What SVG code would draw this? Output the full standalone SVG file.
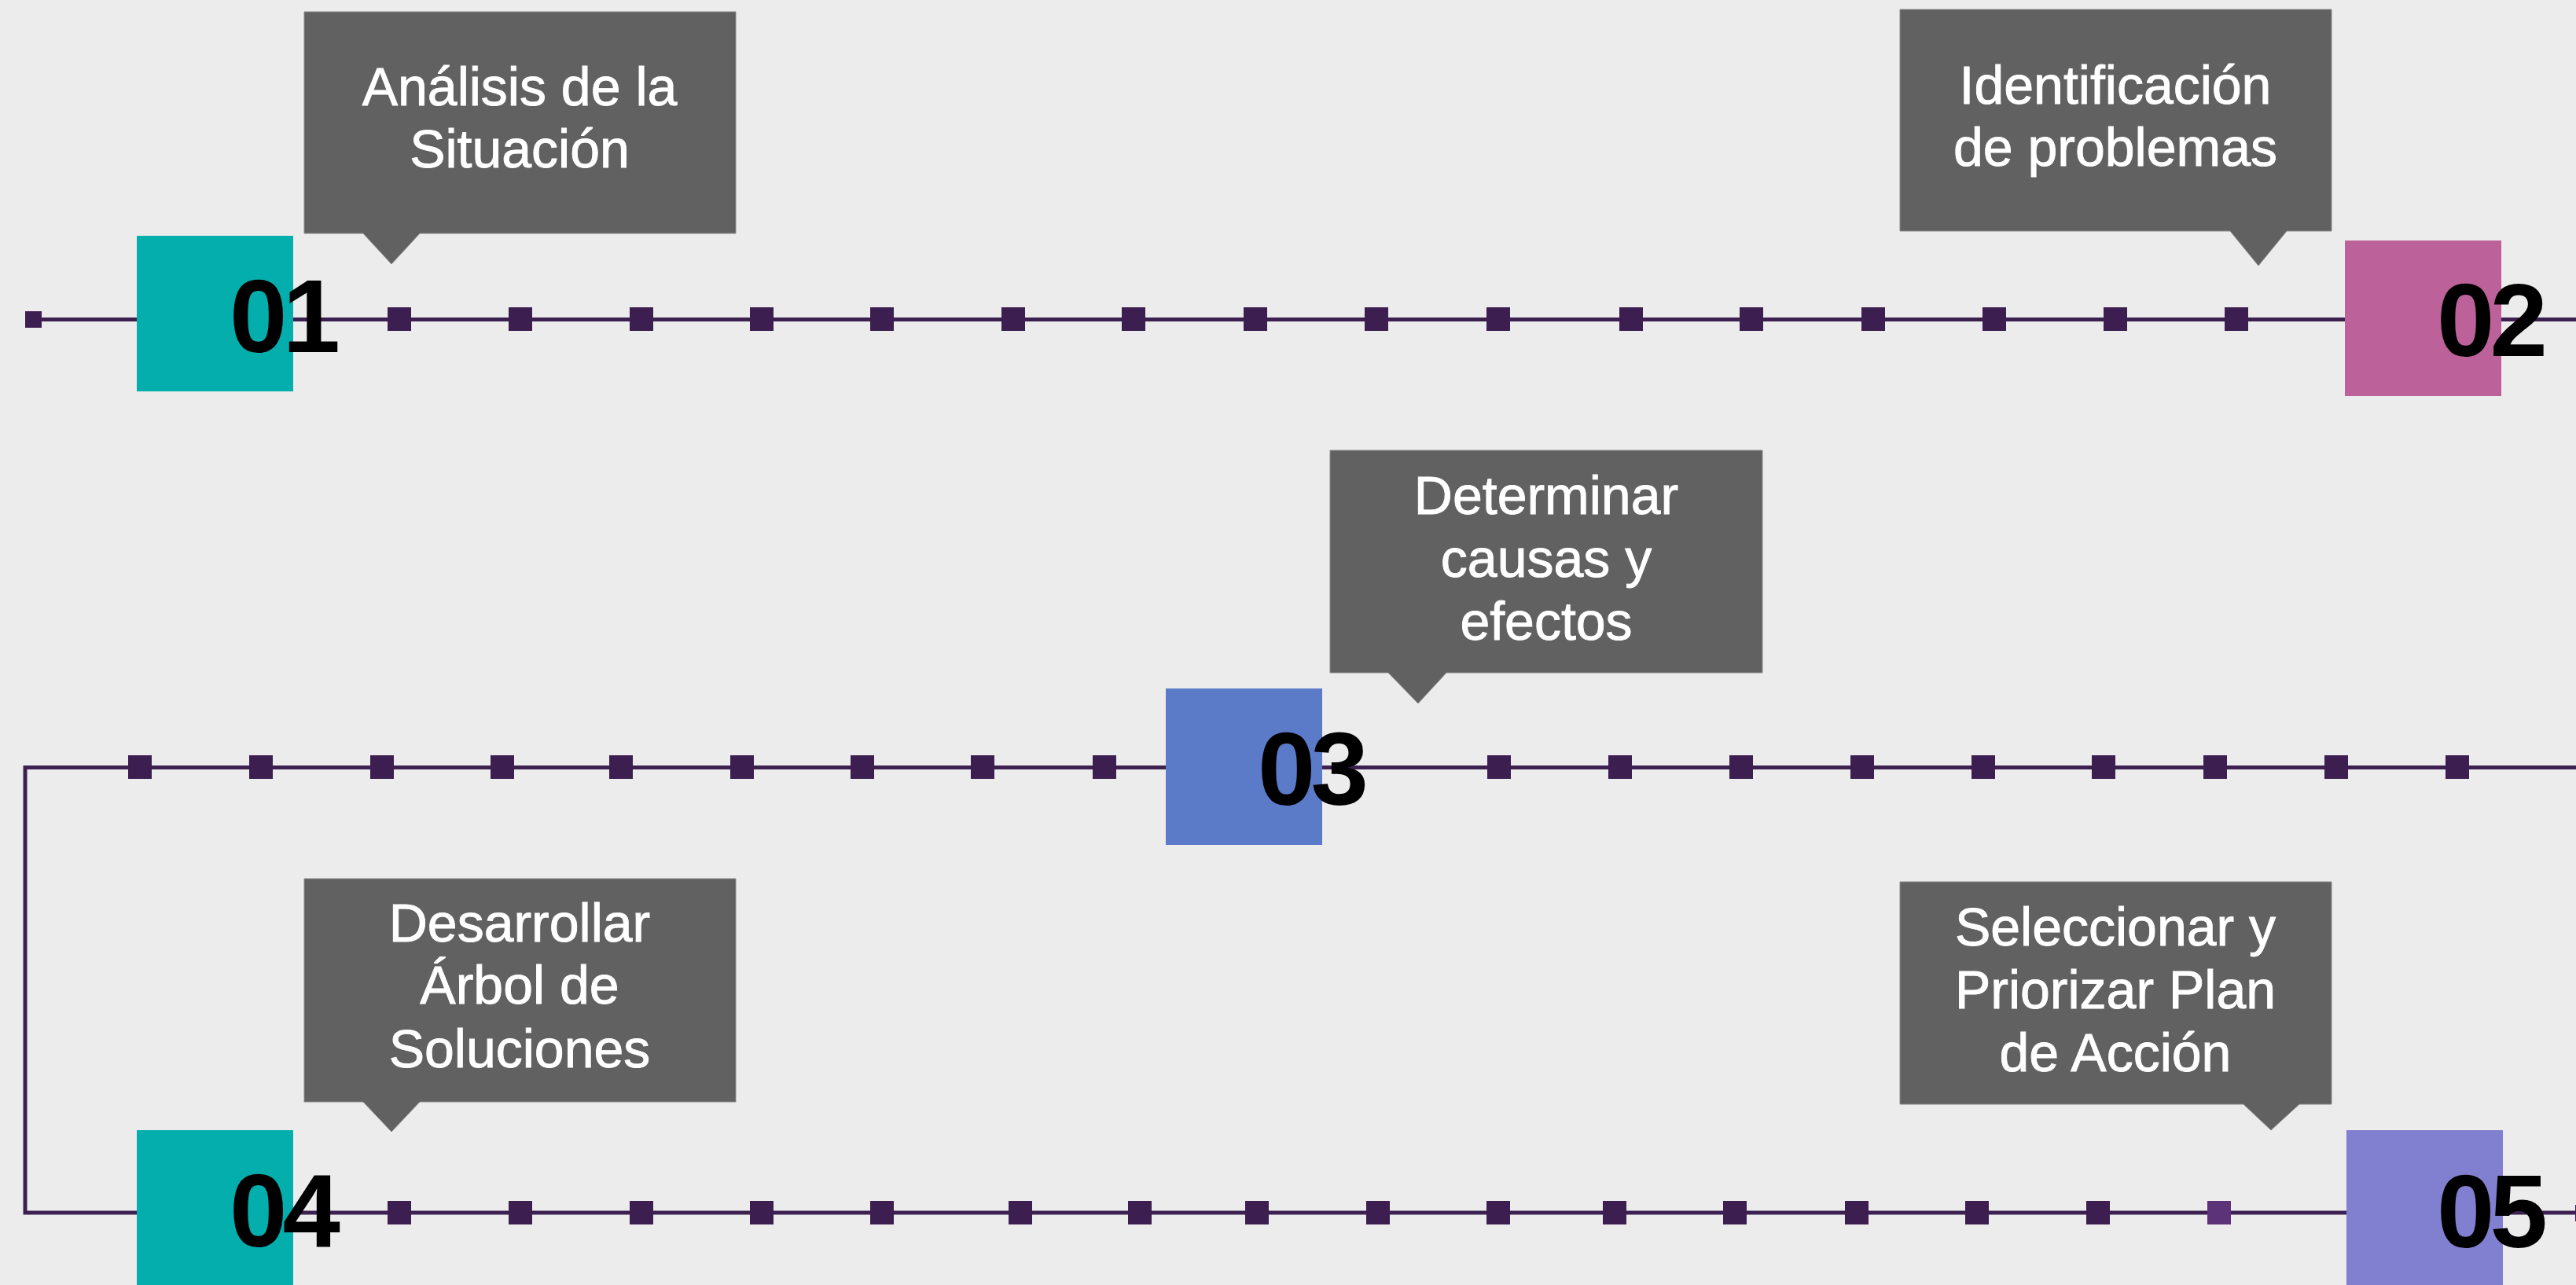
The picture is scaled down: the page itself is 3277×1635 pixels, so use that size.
<svg xmlns="http://www.w3.org/2000/svg" width="3277" height="1635" viewBox="0 0 3277 1635">
<defs>
<style>
.bg{fill:#ececec}
.ln{fill:none;stroke:#3c2050;stroke-width:5}
.mk{fill:#3c1f50}
.mk2{fill:#5c3278}
.call{fill:#616161;stroke:#8a8a8a;stroke-width:1}
.lbl{font-family:"Liberation Sans",Arial,sans-serif;font-size:68px;fill:#ffffff;stroke:#ffffff;stroke-width:0.9;text-anchor:middle}
.num{font-family:"Liberation Sans",Arial,sans-serif;font-size:132px;font-weight:bold;fill:#000000;letter-spacing:-6px}
</style>
</defs>
<rect class="bg" x="0" y="0" width="3277" height="1635"/>
<g id="connectors">
<path class="ln" d="M40,406.5 H3277"/>
<path class="ln" d="M3277,976.5 H32 V1543 H3277"/>
<rect class="mk" x="32" y="396" width="21" height="21"/>
<rect class="mk" x="3276" y="1533" width="21" height="21"/>
<g id="markers-row1">
<rect class="mk" x="493" y="391" width="30" height="30"/>
<rect class="mk" x="647" y="391" width="30" height="30"/>
<rect class="mk" x="801" y="391" width="30" height="30"/>
<rect class="mk" x="954" y="391" width="30" height="30"/>
<rect class="mk" x="1107" y="391" width="30" height="30"/>
<rect class="mk" x="1274" y="391" width="30" height="30"/>
<rect class="mk" x="1427" y="391" width="30" height="30"/>
<rect class="mk" x="1582" y="391" width="30" height="30"/>
<rect class="mk" x="1736" y="391" width="30" height="30"/>
<rect class="mk" x="1891" y="391" width="30" height="30"/>
<rect class="mk" x="2060" y="391" width="30" height="30"/>
<rect class="mk" x="2213" y="391" width="30" height="30"/>
<rect class="mk" x="2368" y="391" width="30" height="30"/>
<rect class="mk" x="2522" y="391" width="30" height="30"/>
<rect class="mk" x="2676" y="391" width="30" height="30"/>
<rect class="mk" x="2830" y="391" width="30" height="30"/>
</g>
<g id="markers-row2">
<rect class="mk" x="163" y="961" width="30" height="30"/>
<rect class="mk" x="317" y="961" width="30" height="30"/>
<rect class="mk" x="471" y="961" width="30" height="30"/>
<rect class="mk" x="624" y="961" width="30" height="30"/>
<rect class="mk" x="775" y="961" width="30" height="30"/>
<rect class="mk" x="929" y="961" width="30" height="30"/>
<rect class="mk" x="1082" y="961" width="30" height="30"/>
<rect class="mk" x="1235" y="961" width="30" height="30"/>
<rect class="mk" x="1390" y="961" width="30" height="30"/>
<rect class="mk" x="1892" y="961" width="30" height="30"/>
<rect class="mk" x="2046" y="961" width="30" height="30"/>
<rect class="mk" x="2200" y="961" width="30" height="30"/>
<rect class="mk" x="2354" y="961" width="30" height="30"/>
<rect class="mk" x="2508" y="961" width="30" height="30"/>
<rect class="mk" x="2661" y="961" width="30" height="30"/>
<rect class="mk" x="2803" y="961" width="30" height="30"/>
<rect class="mk" x="2957" y="961" width="30" height="30"/>
<rect class="mk" x="3111" y="961" width="30" height="30"/>
</g>
<g id="markers-row3">
<rect class="mk" x="493" y="1528" width="30" height="30"/>
<rect class="mk" x="647" y="1528" width="30" height="30"/>
<rect class="mk" x="801" y="1528" width="30" height="30"/>
<rect class="mk" x="954" y="1528" width="30" height="30"/>
<rect class="mk" x="1107" y="1528" width="30" height="30"/>
<rect class="mk" x="1283" y="1528" width="30" height="30"/>
<rect class="mk" x="1435" y="1528" width="30" height="30"/>
<rect class="mk" x="1584" y="1528" width="30" height="30"/>
<rect class="mk" x="1738" y="1528" width="30" height="30"/>
<rect class="mk" x="1891" y="1528" width="30" height="30"/>
<rect class="mk" x="2039" y="1528" width="30" height="30"/>
<rect class="mk" x="2192" y="1528" width="30" height="30"/>
<rect class="mk" x="2347" y="1528" width="30" height="30"/>
<rect class="mk" x="2500" y="1528" width="30" height="30"/>
<rect class="mk" x="2654" y="1528" width="30" height="30"/>
<rect class="mk2" x="2808" y="1528" width="30" height="30"/>
</g>
</g>
<g id="step01">
<rect x="174" y="300" width="199" height="198" fill="#04aeac"/>
<text class="num" x="292" y="448">01</text>
<path class="call" d="M387,15 H936 V297 H534 L498,336 L462,297 H387 Z"/>
<text class="lbl"><tspan x="661" y="134">Análisis de la</tspan><tspan x="661" y="213">Situación</tspan></text>
</g>
<g id="step02">
<rect x="2983" y="306" width="199" height="198" fill="#bd619b"/>
<text class="num" x="3100" y="453">02</text>
<path class="call" d="M2417,12 H2966 V294 H2909 L2873,338 L2837,294 H2417 Z"/>
<text class="lbl"><tspan x="2691" y="132">Identificación</tspan><tspan x="2691" y="211">de problemas</tspan></text>
</g>
<g id="step03">
<rect x="1483" y="876" width="199" height="199" fill="#5b7ac8"/>
<text class="num" x="1600" y="1024">03</text>
<path class="call" d="M1692,573 H2242 V856 H1840 L1804,895 L1766,856 H1692 Z"/>
<text class="lbl"><tspan x="1967" y="654">Determinar</tspan><tspan x="1967" y="734">causas y</tspan><tspan x="1967" y="814">efectos</tspan></text>
</g>
<g id="step04">
<rect x="174" y="1438" width="199" height="199" fill="#04aeac"/>
<text class="num" x="292" y="1586">04</text>
<path class="call" d="M387,1118 H936 V1402 H534 L498,1440 L462,1402 H387 Z"/>
<text class="lbl"><tspan x="661" y="1198">Desarrollar</tspan><tspan x="661" y="1277">Árbol de</tspan><tspan x="661" y="1358">Soluciones</tspan></text>
</g>
<g id="step05">
<rect x="2985" y="1438" width="199" height="199" fill="#817fcf"/>
<text class="num" x="3100" y="1587">05</text>
<path class="call" d="M2417,1122 H2966 V1405 H2925 L2889,1438 L2854,1405 H2417 Z"/>
<text class="lbl"><tspan x="2691" y="1203">Seleccionar y</tspan><tspan x="2691" y="1283">Priorizar Plan</tspan><tspan x="2691" y="1363">de Acción</tspan></text>
</g>
</svg>
